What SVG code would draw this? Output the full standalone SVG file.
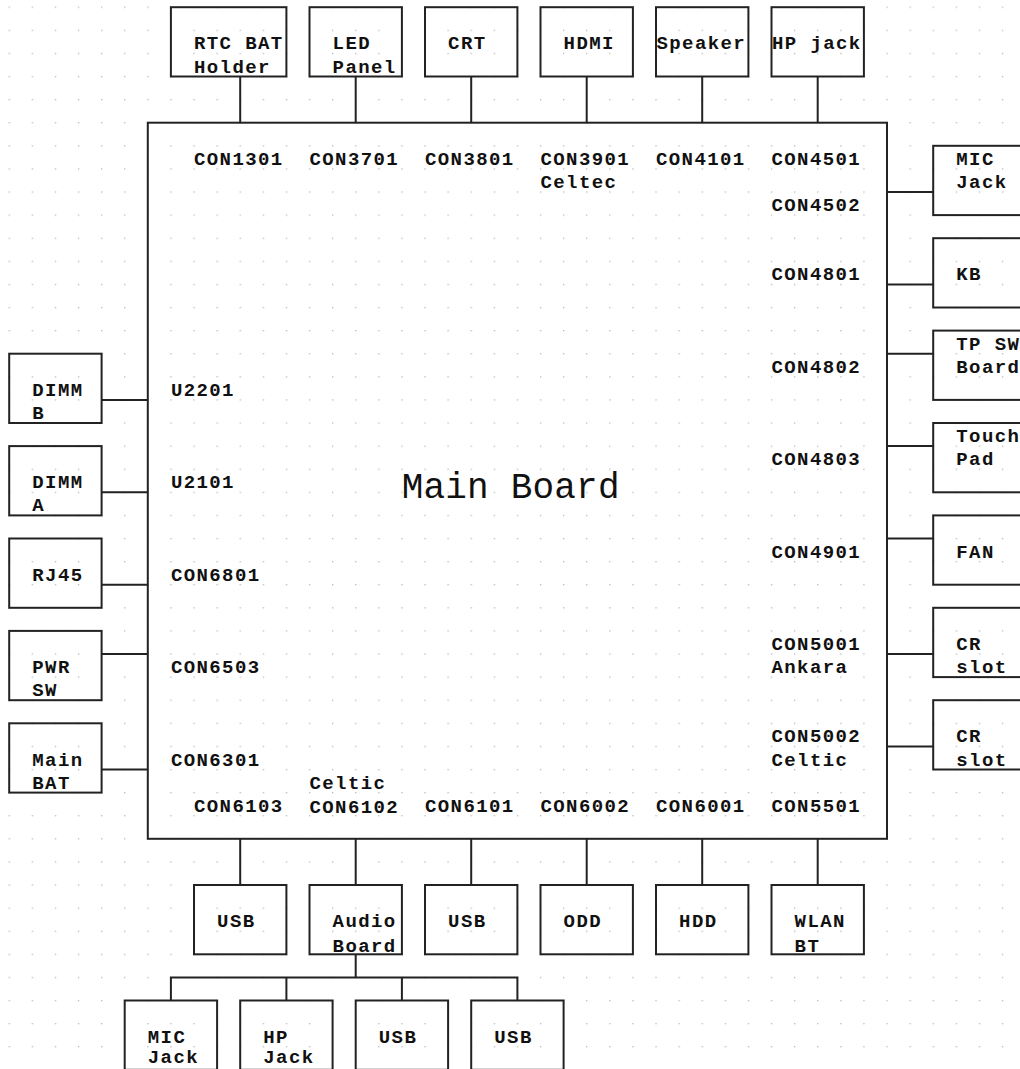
<svg xmlns="http://www.w3.org/2000/svg" width="1020" height="1069" viewBox="0 0 1020 1069">
<defs>
<pattern id="grid" x="8.6" y="6.6" width="23.1" height="23.1" patternUnits="userSpaceOnUse">
<rect x="0" y="0" width="1.3" height="1.3" fill="#b8b8b8"/>
</pattern>
<style>
.box{fill:none;stroke:#222;stroke-width:2}
.ln{fill:none;stroke:#222;stroke-width:2}
text{font-family:"Liberation Mono","DejaVu Sans Mono",monospace;font-weight:bold;font-size:19px;letter-spacing:1.4px;fill:#111}
.big{font-size:36px;font-weight:normal;letter-spacing:0.2px}
</style>
</defs>
<rect width="1020" height="1069" fill="#fff"/>
<rect width="1020" height="1069" fill="url(#grid)"/>

<g id="connectors">
<path class="ln" d="M240.2 76.5V122.7M355.7 76.5V122.7M471.2 76.5V122.7M586.7 76.5V122.7M702.2 76.5V122.7M817.7 76.5V122.7"/>
<path class="ln" d="M887 192H933.2M887 284.4H933.2M887 353.7H933.2M887 446.1H933.2M887 538.5H933.2M887 654H933.2M887 746.4H933.2"/>
<path class="ln" d="M101.6 399.9H147.8M101.6 492.3H147.8M101.6 584.7H147.8M101.6 654H147.8M101.6 769.5H147.8"/>
<path class="ln" d="M240.2 838.8V885M355.7 838.8V885M471.2 838.8V885M586.7 838.8V885M702.2 838.8V885M817.7 838.8V885"/>
<path class="ln" d="M355.7 954.3V977.4M170.9 1000.5V977.4H517.4V1000.5M286.4 977.4V1000.5M401.9 977.4V1000.5"/>
</g>

<g id="main-board">
<rect class="box" x="147.8" y="122.7" width="739.2" height="716.1"/>
<text class="big" x="401.7" y="498.3">Main Board</text>
<text x="194" y="165">CON1301</text>
<text x="309.5" y="165">CON3701</text>
<text x="425" y="165">CON3801</text>
<text x="540.5" y="165">CON3901</text>
<text x="540.5" y="188">Celtec</text>
<text x="656" y="165">CON4101</text>
<text x="771.5" y="165">CON4501</text>
<text x="771.5" y="211">CON4502</text>
<text x="771.5" y="280.4">CON4801</text>
<text x="771.5" y="372.8">CON4802</text>
<text x="771.5" y="465.2">CON4803</text>
<text x="771.5" y="557.6">CON4901</text>
<text x="771.5" y="650">CON5001</text>
<text x="771.5" y="673.1">Ankara</text>
<text x="771.5" y="742.4">CON5002</text>
<text x="771.5" y="765.5">Celtic</text>
<text x="771.5" y="811.7">CON5501</text>
<text x="170.9" y="395.9">U2201</text>
<text x="170.9" y="488.3">U2101</text>
<text x="170.9" y="580.7">CON6801</text>
<text x="170.9" y="673.1">CON6503</text>
<text x="170.9" y="765.5">CON6301</text>
<text x="194" y="811.7">CON6103</text>
<text x="309.5" y="788.6">Celtic</text>
<text x="309.5" y="812.5">CON6102</text>
<text x="425" y="811.7">CON6101</text>
<text x="540.5" y="811.7">CON6002</text>
<text x="656" y="811.7">CON6001</text>
</g>

<g id="rtc-bat-holder"><rect class="box" x="170.9" y="7.2" width="115.5" height="69.3"/><text x="194" y="49.4">RTC BAT</text><text x="194" y="72.5">Holder</text></g>
<g id="led-panel"><rect class="box" x="309.5" y="7.2" width="92.4" height="69.3"/><text x="332.6" y="49.4">LED</text><text x="332.6" y="72.5">Panel</text></g>
<g id="crt"><rect class="box" x="425" y="7.2" width="92.4" height="69.3"/><text x="448.1" y="49.4">CRT</text></g>
<g id="hdmi"><rect class="box" x="540.5" y="7.2" width="92.4" height="69.3"/><text x="563.6" y="49.4">HDMI</text></g>
<g id="speaker"><rect class="box" x="656" y="7.2" width="92.4" height="69.3"/><text x="656.5" y="49.4">Speaker</text></g>
<g id="hp-jack-top"><rect class="box" x="771.5" y="7.2" width="92.4" height="69.3"/><text x="772" y="49.4">HP jack</text></g>

<g id="mic-jack-right"><rect class="box" x="933.2" y="145.8" width="92.4" height="69.3"/><text x="956.3" y="165">MIC</text><text x="956.3" y="188">Jack</text></g>
<g id="kb"><rect class="box" x="933.2" y="238.2" width="92.4" height="69.3"/><text x="956.3" y="280.4">KB</text></g>
<g id="tp-sw-board"><rect class="box" x="933.2" y="330.6" width="92.4" height="69.3"/><text x="956.3" y="349.7">TP SW</text><text x="956.3" y="372.8">Board</text></g>
<g id="touch-pad"><rect class="box" x="933.2" y="423" width="92.4" height="69.3"/><text x="956.3" y="442.1">Touch</text><text x="956.3" y="465.2">Pad</text></g>
<g id="fan"><rect class="box" x="933.2" y="515.4" width="92.4" height="69.3"/><text x="956.3" y="557.6">FAN</text></g>
<g id="cr-slot-1"><rect class="box" x="933.2" y="607.8" width="92.4" height="69.3"/><text x="956.3" y="650">CR</text><text x="956.3" y="673.1">slot</text></g>
<g id="cr-slot-2"><rect class="box" x="933.2" y="700.2" width="92.4" height="69.3"/><text x="956.3" y="742.4">CR</text><text x="956.3" y="765.5">slot</text></g>

<g id="dimm-b"><rect class="box" x="9.2" y="353.7" width="92.4" height="69.3"/><text x="32.3" y="395.9">DIMM</text><text x="32.3" y="419">B</text></g>
<g id="dimm-a"><rect class="box" x="9.2" y="446.1" width="92.4" height="69.3"/><text x="32.3" y="488.3">DIMM</text><text x="32.3" y="511.4">A</text></g>
<g id="rj45"><rect class="box" x="9.2" y="538.5" width="92.4" height="69.3"/><text x="32.3" y="580.7">RJ45</text></g>
<g id="pwr-sw"><rect class="box" x="9.2" y="630.9" width="92.4" height="69.3"/><text x="32.3" y="673.1">PWR</text><text x="32.3" y="696.2">SW</text></g>
<g id="main-bat"><rect class="box" x="9.2" y="723.3" width="92.4" height="69.3"/><text x="32.3" y="765.5">Main</text><text x="32.3" y="788.6">BAT</text></g>

<g id="usb-1"><rect class="box" x="194" y="885" width="92.4" height="69.3"/><text x="217.1" y="927.2">USB</text></g>
<g id="audio-board"><rect class="box" x="309.5" y="885" width="92.4" height="69.3"/><text x="332.6" y="927.2">Audio</text><text x="332.6" y="951.5">Board</text></g>
<g id="usb-2"><rect class="box" x="425" y="885" width="92.4" height="69.3"/><text x="448.1" y="927.2">USB</text></g>
<g id="odd"><rect class="box" x="540.5" y="885" width="92.4" height="69.3"/><text x="563.6" y="927.2">ODD</text></g>
<g id="hdd"><rect class="box" x="656" y="885" width="92.4" height="69.3"/><text x="679.1" y="927.2">HDD</text></g>
<g id="wlan-bt"><rect class="box" x="771.5" y="885" width="92.4" height="69.3"/><text x="794.6" y="927.2">WLAN</text><text x="794.6" y="951.5">BT</text></g>

<g id="mic-jack-bottom"><rect class="box" x="124.7" y="1000.5" width="92.4" height="69.3"/><text x="147.8" y="1042.7">MIC</text><text x="147.8" y="1063">Jack</text></g>
<g id="hp-jack-bottom"><rect class="box" x="240.2" y="1000.5" width="92.4" height="69.3"/><text x="263.3" y="1042.7">HP</text><text x="263.3" y="1063">Jack</text></g>
<g id="usb-3"><rect class="box" x="355.7" y="1000.5" width="92.4" height="69.3"/><text x="378.8" y="1042.7">USB</text></g>
<g id="usb-4"><rect class="box" x="471.2" y="1000.5" width="92.4" height="69.3"/><text x="494.3" y="1042.7">USB</text></g>
</svg>
